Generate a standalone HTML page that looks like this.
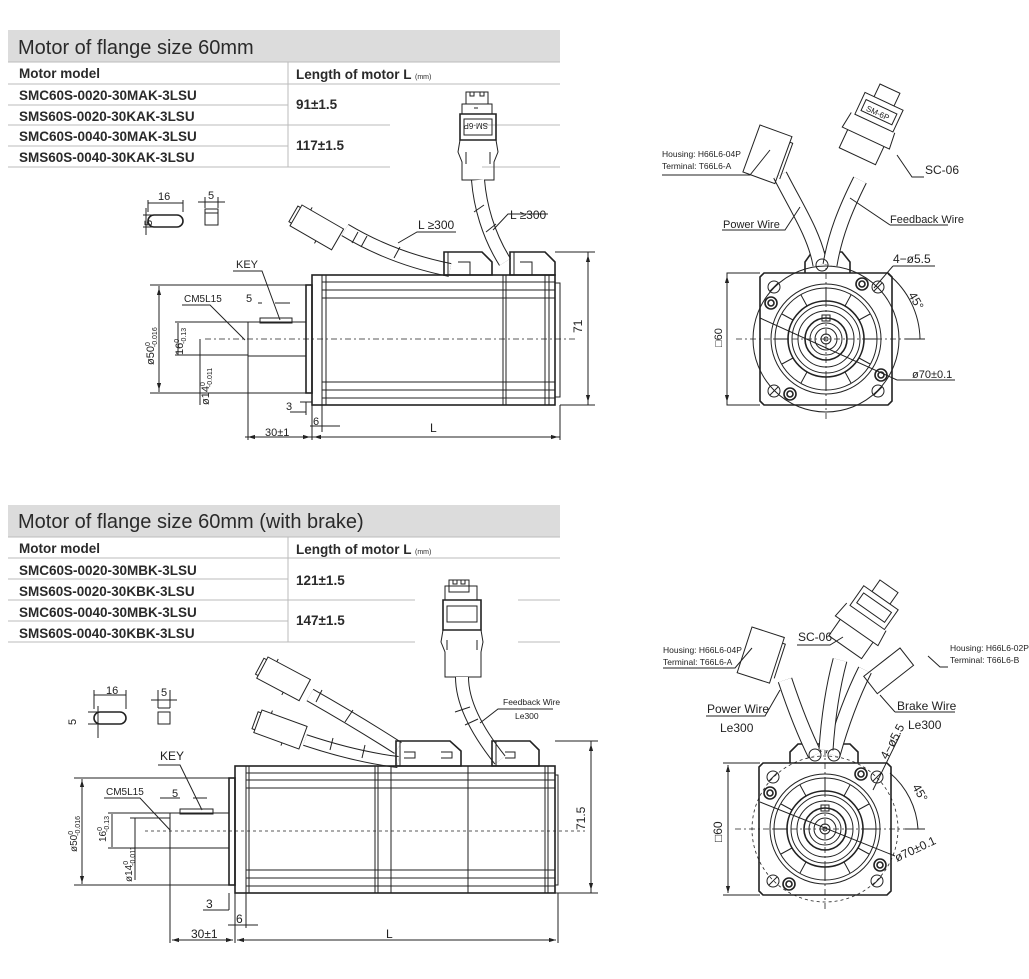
<!DOCTYPE html>
<html><head><meta charset="utf-8"><style>
html,body{margin:0;padding:0;background:#fff}
svg{display:block}
.t{font-family:"Liberation Sans",sans-serif;fill:#2a2a2a}
.c{font-family:"Liberation Sans Narrow","Liberation Sans",sans-serif;fill:#222}
.l{stroke:#222;stroke-width:1;fill:none}
.th{stroke:#222;stroke-width:1.6;fill:none}
.g{stroke:#bbb;stroke-width:1;fill:none}
.d{stroke:#222;stroke-width:0.8;fill:none;stroke-dasharray:6 3 2 3}
.dd{stroke:#222;stroke-width:0.8;fill:none;stroke-dasharray:3 3}
</style></head><body>
<svg width="1029" height="979" viewBox="0 0 1029 979" xmlns="http://www.w3.org/2000/svg">
<defs>
 <marker id="a" viewBox="0 0 10 10" refX="10" refY="5" markerWidth="7" markerHeight="7" orient="auto-start-reverse"><path d="M0,2 L10,5 L0,8z" fill="#222"/></marker>
 <g id="front">
  <path class="th" d="M-62,-66 H62 L66,-62 V62 L62,66 H-62 L-66,62 V-62z"/>
  <circle class="l" r="55"/><circle class="l" r="51"/><circle class="th" r="38"/><circle class="l" r="34"/>
  <circle class="l" r="28"/><circle class="th" r="21"/><circle class="l" r="16"/><circle class="l" r="11"/><circle class="l" r="5"/><circle class="l" r="2"/>
  <g class="l">
   <path d="M38,0H51M-38,0H-51M0,38V51M0,-38V-51M33,19L44,25M-33,19L-44,25M33,-19L44,-25M-33,-19L-44,-25M19,33L25,44M-19,33L-25,44M19,-33L25,-44M-19,-33L-25,-44"/>
   <rect x="-4" y="-24" width="8" height="6"/>
  </g>
  <g class="l"><circle cx="-52" cy="-52" r="6"/><circle cx="52" cy="-52" r="6"/><circle cx="-52" cy="52" r="6"/><circle cx="52" cy="52" r="6"/>
   <path d="M-56,-48L-48,-56M48,-48L56,-56M-56,56L-48,48M48,56L56,48"/></g>
  <g class="th"><circle cx="-55" cy="-36" r="6"/><circle cx="-55" cy="-36" r="3"/><circle cx="36" cy="-55" r="6"/><circle cx="36" cy="-55" r="3"/>
   <circle cx="55" cy="36" r="6"/><circle cx="55" cy="36" r="3"/><circle cx="-36" cy="55" r="6"/><circle cx="-36" cy="55" r="3"/></g>
  <path class="d" d="M-90,0H90M0,-80V80"/>
 </g>
 <g id="conn"><!-- small housing -->
  <rect class="l" x="0" y="0" width="48" height="24"/><path class="l" d="M0,3H-3V21H0M10,0V-3M30,24V27"/>
 </g>
</defs>

<!-- ============ TABLE 1 ============ -->
<rect x="8" y="30" width="552" height="32" fill="#dcdcdc"/>
<text class="t" x="18" y="54" font-size="20">Motor of flange size 60mm</text>
<g class="g"><path d="M8,62H560M8,84H560M8,105H288M8,125H390M482,125H560M8,146H288M8,167H390M482,167H560M288,62V167"/></g>
<g class="t" font-size="13.5" font-weight="bold" fill="#333">
<text x="19" y="78">Motor model</text><text x="296" y="79">Length of motor  L <tspan font-size="7" font-weight="normal">(mm)</tspan></text>
<text x="19" y="100">SMC60S-0020-30MAK-3LSU</text><text x="19" y="121">SMS60S-0020-30KAK-3LSU</text>
<text x="19" y="141">SMC60S-0040-30MAK-3LSU</text><text x="19" y="162">SMS60S-0040-30KAK-3LSU</text>
<text x="296" y="109">91±1.5</text><text x="296" y="150">117±1.5</text></g>

<!-- ============ TABLE 2 ============ -->
<rect x="8" y="505" width="552" height="32" fill="#dcdcdc"/>
<text class="t" x="18" y="528" font-size="20">Motor of flange size 60mm (with brake)</text>
<g class="g"><path d="M8,537H560M8,558H560M8,579H288M8,600H415M518,600H560M8,621H288M8,642H415M518,642H560M288,537V642"/></g>
<g class="t" font-size="13.5" font-weight="bold" fill="#333">
<text x="19" y="553">Motor model</text><text x="296" y="554">Length of motor  L <tspan font-size="7" font-weight="normal">(mm)</tspan></text>
<text x="19" y="575">SMC60S-0020-30MBK-3LSU</text><text x="19" y="596">SMS60S-0020-30KBK-3LSU</text>
<text x="19" y="617">SMC60S-0040-30MBK-3LSU</text><text x="19" y="638">SMS60S-0040-30KBK-3LSU</text>
<text x="296" y="585">121±1.5</text><text x="296" y="625">147±1.5</text></g>

<!-- ============ TOP SIDE VIEW ============ -->
<g>
 <!-- key detail -->
 <rect class="th" x="148" y="215" width="35" height="12" rx="6"/>
 <path class="l" d="M148,212V200M183,212V200M148,203H183M143,215H168M143,227H168M146,208V235"/>
 <text class="c" x="158" y="200" font-size="11">16</text>
 <text class="c" transform="translate(152,226) rotate(-90)" font-size="11">5</text>
 <rect class="l" x="205" y="209" width="13" height="16"/><path class="l" d="M205,213H218M205,197V208M218,197V208M198,202H225"/>
 <text class="c" x="208" y="199" font-size="11">5</text>

 <!-- feedback connector (above) -->
 <g transform="translate(458,92)">
  <path class="l" d="M8,0H30V12H8zM12,0V4H16V0M22,0V4H26V0M4,12H34V22H4zM16,16H20"/>
  <path class="th" d="M2,22H38V48H2z"/><rect class="l" x="6" y="27" width="28" height="16"/>
  <text class="c" x="10" y="39" font-size="8" transform="rotate(180,20,35)">SM-6P</text>
  <path class="l" d="M2,48L0,60L4,70V88H36V70L40,60L38,48M8,60V72M32,60V72"/>
 </g>
 <path d="M478,180C480,205 488,235 505,262" stroke="#222" stroke-width="14" fill="none"/>
 <path d="M478,180C480,205 488,235 505,262" stroke="#fff" stroke-width="12" fill="none"/>
 <path class="l" d="M474,212L484,205M486,232L496,224"/>
 <path class="l" d="M493,230L508,214H548"/><text class="c" x="510" y="219" font-size="12">L ≥300</text>
 <!-- power connector -->
 <g transform="translate(302,205) rotate(30)"><use href="#conn"/></g>
 <path d="M345,230C375,248 410,262 450,270" stroke="#222" stroke-width="14" fill="none"/>
 <path d="M345,230C375,248 410,262 450,270" stroke="#fff" stroke-width="12" fill="none"/>
 <path class="l" d="M358,232L352,243M367,236L361,247M400,247L394,258"/>
 <path class="l" d="M398,243L417,232H456"/><text class="c" x="418" y="229" font-size="12">L ≥300</text>
 <!-- connector blocks on top -->
 <path class="th" d="M444,252H482L492,262V275H444z"/><path class="l" d="M448,252V275M458,262H470V275"/>
 <path class="th" d="M510,252H545L555,262V275H510z"/><path class="l" d="M514,252V275M520,262H532V275"/>
 <!-- body -->
 <rect class="th" x="312" y="275" width="243" height="130"/>
 <path class="l" d="M322,275V405M326,275V405M503,275V405M506,275V405M545,275V405M549,275V405"/>
 <path class="l" d="M322,282H555M322,290H555M322,298H555M322,382H555M322,390H555M322,398H555"/>
 <path class="l" d="M555,283H560V397H555M560,287V393"/>
 <rect class="th" x="306" y="285" width="6" height="108"/>
 <rect class="l" x="248" y="322" width="58" height="34"/>
 <rect class="l" x="260" y="318" width="32" height="5"/>
 <path class="d" d="M205,339H575"/>
 <!-- dims -->
 <path class="l" d="M150,285H306M150,393H306M159,286V392M175,322H248M178,323V355M175,355H248M200,339V405M248,340V440M312,405V440M560,405V440M245,437H312M312,437H560M555,252H595M560,405H595M588,252V405M300,402H312M306,402V415M322,405V432M310,426H340M200,322H248"/>
 <path class="l" marker-start="url(#a)" marker-end="url(#a)" d="M159,288V390"/>
 <path class="l" marker-start="url(#a)" marker-end="url(#a)" d="M588,255V402"/>
 <path class="l" marker-start="url(#a)" marker-end="url(#a)" d="M248,437H310"/>
 <path class="l" marker-start="url(#a)" marker-end="url(#a)" d="M314,437H558"/>
 <path class="l" d="M290,412H306M312,426H322M258,303H262M275,303H290"/>
 <text class="c" x="286" y="410" font-size="11">3</text>
 <text class="c" x="313" y="425" font-size="11">6</text>
 <text class="c" x="265" y="436" font-size="11">30±1</text>
 <text class="c" x="430" y="432" font-size="12">L</text>
 <text class="c" transform="translate(582,333) rotate(-90)" font-size="12">71</text>
 <text class="c" transform="translate(154,365) rotate(-90)" font-size="11">ø50<tspan font-size="7" dy="-4">0</tspan><tspan font-size="7" dy="7" dx="-5">-0.016</tspan></text>
 <text class="c" transform="translate(183,355) rotate(-90)" font-size="11">16<tspan font-size="7" dy="-4">0</tspan><tspan font-size="7" dy="7" dx="-5">-0.13</tspan></text>
 <text class="c" transform="translate(209,405) rotate(-90)" font-size="11">ø14<tspan font-size="7" dy="-4">0</tspan><tspan font-size="7" dy="7" dx="-5">-0.011</tspan></text>
 <text class="c" x="236" y="268" font-size="11">KEY</text><path class="l" d="M233,271H262L280,320"/>
 <text class="c" x="184" y="302" font-size="10">CM5L15</text><path class="l" d="M182,305H210L245,340"/>
 <text class="c" x="246" y="302" font-size="11">5</text>
</g>

<!-- ============ TOP FRONT VIEW ============ -->
<g>
 <circle class="l" cx="826" cy="339" r="73"/>
 <use href="#front" x="826" y="339"/>
 <path class="th" d="M805,273V262L812,252H842L850,262V273"/>
 <path d="M780,175C795,205 815,235 820,265" stroke="#222" stroke-width="15" fill="none"/>
 <path d="M780,175C795,205 815,235 820,265" stroke="#fff" stroke-width="13" fill="none"/>
 <path d="M860,180C845,210 835,235 830,265" stroke="#222" stroke-width="15" fill="none"/>
 <path d="M860,180C845,210 835,235 830,265" stroke="#fff" stroke-width="13" fill="none"/>
 <circle class="l" cx="822" cy="265" r="6" fill="#fff"/>
 <g transform="translate(760,125) rotate(20)"><rect class="l" x="0" y="0" width="34" height="50" fill="#fff"/><path class="l" d="M34,6H37V44"/></g>
 <g transform="translate(880,84) rotate(25)"><path class="l" d="M0,0H22V14H0zM-10,14H32V38H-10zM-14,38L-16,55H36L34,38M-10,55V75H30V55" fill="#fff"/><rect class="l" x="-6" y="20" width="34" height="12"/><text class="c" x="-2" y="30" font-size="8">SM-6P</text></g>
 <g class="l"><path d="M662,175H750L770,150M722,230H785L800,207M890,225H948M890,225L850,198M924,177H912L897,155M733,405H727V273H760M727,405H760"/></g>
 <path class="l" marker-start="url(#a)" marker-end="url(#a)" d="M727,276V402"/>
 <g class="c" font-size="8.5"><text x="662" y="157">Housing: H66L6-04P</text><text x="662" y="169">Terminal: T66L6-A</text></g>
 <g class="c" font-size="11"><text x="723" y="228">Power Wire</text><text x="890" y="223">Feedback Wire</text></g>
 <text class="c" x="925" y="174" font-size="12">SC-06</text>
 <text class="c" x="893" y="263" font-size="12">4−ø5.5</text><path class="l" d="M893,266H935M893,266L874,288"/>
 <path class="l" d="M888,274A85,85 0 0 1 920,339M905,339H925"/>
 <text class="c" transform="translate(908,295) rotate(60)" font-size="12">45°</text>
 <text class="c" x="912" y="378" font-size="11">ø70±0.1</text><path class="l" d="M897,380H955M897,380L760,318"/>
 <text class="c" transform="translate(722,347) rotate(-90)" font-size="11">□60</text>
</g>

<!-- ============ BOTTOM SIDE VIEW ============ -->
<g>
 <rect class="th" x="94" y="712" width="32" height="12" rx="6"/>
 <path class="l" d="M94,709V690M126,709V690M94,695H126M88,712H113M88,724H113M98,706V738"/>
 <text class="c" x="106" y="694" font-size="11">16</text>
 <text class="c" transform="translate(76,725) rotate(-90)" font-size="11">5</text>
 <rect class="l" x="158" y="712" width="12" height="12"/><path class="l" d="M158,708H170M158,690V708M170,690V708M151,700H177"/>
 <text class="c" x="161" y="696" font-size="11">5</text>

 <!-- feedback connector -->
 <g transform="translate(441,580)">
  <path class="l" d="M8,0H28V12H8zM12,0V4H16V0M20,0V4H24V0M4,6H36V20H4z"/>
  <path class="th" d="M2,20H40V50H2z"/><rect class="l" x="6" y="26" width="30" height="16"/>
  <path class="l" d="M2,50L0,62L4,72V97H40V72L42,62L40,50M6,60V70M36,60V70"/>
 </g>
 <path d="M462,677C462,705 480,735 500,760" stroke="#222" stroke-width="14" fill="none"/>
 <path d="M462,677C462,705 480,735 500,760" stroke="#fff" stroke-width="12" fill="none"/>
 <path class="l" d="M455,712L470,707M465,725L478,719"/>
 <path class="l" d="M480,723L498,709H553"/>
 <text class="c" x="503" y="705" font-size="8.5">Feedback Wire</text><text class="c" x="515" y="719" font-size="8.5">Le300</text>
 <!-- power/brake connectors -->
 <g transform="translate(268,657) rotate(28)"><use href="#conn"/></g>
 <g transform="translate(262,710) rotate(20)"><use href="#conn"/></g>
 <path d="M310,695C340,712 370,730 398,748" stroke="#222" stroke-width="14" fill="none"/>
 <path d="M310,695C340,712 370,730 398,748" stroke="#fff" stroke-width="12" fill="none"/>
 <path d="M305,740C335,750 365,758 398,762" stroke="#222" stroke-width="12" fill="none"/>
 <path d="M305,740C335,750 365,758 398,762" stroke="#fff" stroke-width="10" fill="none"/>
 <path class="l" d="M322,690L316,702M353,710L345,722M333,738L330,750M365,745L362,758"/>
 <!-- top blocks -->
 <path class="th" d="M396,741H450L461,751V766H396z"/><path class="l" d="M400,741V766M404,752H415V758H404M441,752H452V758H441"/>
 <path class="th" d="M492,741H530L539,750V766H492z"/><path class="l" d="M496,741V766M505,752H515V758H505"/>
 <!-- body -->
 <rect class="th" x="235" y="766" width="320" height="127"/>
 <path class="l" d="M246,766V893M249,766V893M375,766V893M378,766V893M391,766V893M468,766V893M545,766V893M548,766V893"/>
 <path class="l" d="M246,773H555M246,780H555M246,788H555M246,870H555M246,878H555M246,886H555"/>
 <path class="l" d="M555,775H558V885H555"/>
 <rect class="th" x="229" y="778" width="6" height="107"/>
 <rect class="l" x="170" y="813" width="59" height="35"/>
 <rect class="l" x="180" y="809" width="33" height="5"/>
 <path class="dd" d="M145,831H585"/>
 <path class="l" d="M74,778H229M74,885H229M108,813H170M108,848H170M130,818H170M82,779V884M112,814V847M135,818V880M170,848V943M235,893V943M558,893V943M555,741H598M555,893H598M591,741V893M229,893V910M246,893V928M203,910H229M228,925H258"/>
 <path class="l" marker-start="url(#a)" marker-end="url(#a)" d="M82,780V883"/>
 <path class="l" marker-start="url(#a)" marker-end="url(#a)" d="M591,744V890"/>
 <path class="l" marker-start="url(#a)" marker-end="url(#a)" d="M172,940H233"/>
 <path class="l" marker-start="url(#a)" marker-end="url(#a)" d="M237,940H556"/>
 <path class="l" d="M160,798H180M193,798H207"/>
 <text class="c" x="206" y="908" font-size="12">3</text>
 <text class="c" x="236" y="923" font-size="12">6</text>
 <text class="c" x="191" y="938" font-size="12">30±1</text>
 <text class="c" x="386" y="938" font-size="12">L</text>
 <text class="c" transform="translate(585,830) rotate(-90)" font-size="12">71.5</text>
 <text class="c" transform="translate(77,852) rotate(-90)" font-size="10">ø50<tspan font-size="7" dy="-4">0</tspan><tspan font-size="7" dy="7" dx="-5">-0.016</tspan></text>
 <text class="c" transform="translate(106,842) rotate(-90)" font-size="10">16<tspan font-size="7" dy="-4">0</tspan><tspan font-size="7" dy="7" dx="-5">-0.13</tspan></text>
 <text class="c" transform="translate(132,882) rotate(-90)" font-size="10">ø14<tspan font-size="7" dy="-4">0</tspan><tspan font-size="7" dy="7" dx="-5">-0.011</tspan></text>
 <text class="c" x="160" y="760" font-size="12">KEY</text><path class="l" d="M158,765H180L202,810"/>
 <text class="c" x="106" y="795" font-size="10">CM5L15</text><path class="l" d="M104,798H140L170,830"/>
 <text class="c" x="172" y="797" font-size="11">5</text>
</g>

<!-- ============ BOTTOM FRONT VIEW ============ -->
<g>
 <circle class="dd" cx="825" cy="829" r="73"/>
 <use href="#front" x="825" y="829"/>
 <path class="th" d="M790,763V752L798,744H850L858,752V763"/>
 <path d="M785,680C795,710 805,735 815,755" stroke="#222" stroke-width="15" fill="none"/>
 <path d="M785,680C795,710 805,735 815,755" stroke="#fff" stroke-width="13" fill="none"/>
 <path d="M865,670C850,700 840,730 833,755" stroke="#222" stroke-width="15" fill="none"/>
 <path d="M865,670C850,700 840,730 833,755" stroke="#fff" stroke-width="13" fill="none"/>
 <path d="M840,660C832,690 828,720 826,750" stroke="#222" stroke-width="15" fill="none"/>
 <path d="M840,660C832,690 828,720 826,750" stroke="#fff" stroke-width="13" fill="none"/>
 <circle class="l" cx="815" cy="755" r="6" fill="#fff"/><circle class="l" cx="834" cy="755" r="6" fill="#fff"/>
 <g transform="translate(752,627) rotate(18)"><rect class="l" x="0" y="0" width="34" height="48" fill="#fff"/><path class="l" d="M34,6H37V42"/></g>
 <g transform="translate(880,580) rotate(35)"><path class="l" d="M0,0H22V14H0zM-10,14H32V38H-10zM-14,38L-16,55H36L34,38M-10,55V75H30V55" fill="#fff"/><rect class="l" x="-6" y="20" width="34" height="12"/></g>
 <g transform="translate(900,648) rotate(52)"><rect class="l" x="0" y="0" width="22" height="46" fill="#fff"/></g>
 <g class="l"><path d="M663,668H735L752,648M706,716H765L780,690M797,645H830L843,637M895,712H955M895,712L880,695M948,667H940L928,656"/></g>
 <g class="c" font-size="8.5"><text x="663" y="653">Housing: H66L6-04P</text><text x="663" y="665">Terminal: T66L6-A</text>
 <text x="950" y="651">Housing: H66L6-02P</text><text x="950" y="663">Terminal: T66L6-B</text></g>
 <g class="c" font-size="12"><text x="707" y="713">Power Wire</text><text x="720" y="732">Le300</text>
 <text x="897" y="710">Brake Wire</text><text x="908" y="729">Le300</text><text x="798" y="641">SC-06</text></g>
 <path class="l" d="M723,763H760M723,895H760"/>
 <path class="l" marker-start="url(#a)" marker-end="url(#a)" d="M728,765V893"/>
 <text class="c" transform="translate(722,842) rotate(-90)" font-size="12">□60</text>
 <text class="c" transform="translate(887,760) rotate(-62)" font-size="12">4−ø5.5</text>
 <path class="l" d="M900,735L873,790M890,773A80,80 0 0 1 918,829M905,829H925"/>
 <text class="c" transform="translate(912,787) rotate(60)" font-size="12">45°</text>
 <text class="c" transform="translate(897,862) rotate(-25)" font-size="12">ø70±0.1</text>
 <path class="l" d="M895,856L760,802"/>
</g>
</svg>
</body></html>
